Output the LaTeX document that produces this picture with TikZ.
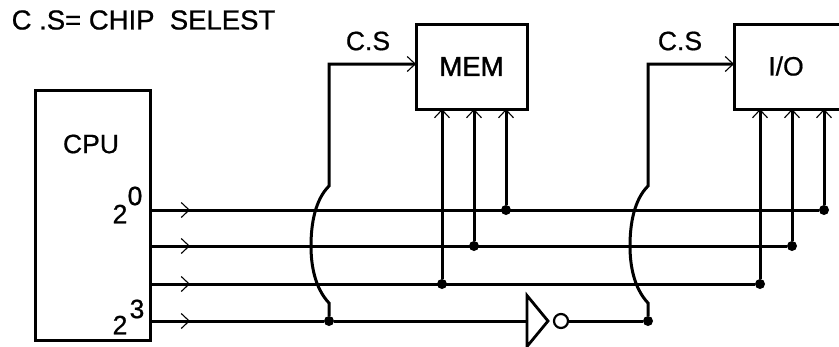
\documentclass[tikz,border=0pt]{standalone}
\usepackage{fontspec}
\setmainfont[FakeBold=0.7]{Liberation Sans}
\usetikzlibrary{arrows.meta,decorations.markings,shapes.geometric}

\begin{document}
\begin{tikzpicture}[%
  x=1pt,y=-1pt,
  >={Straight Barb[length=8pt,width=15pt,line width=1.1pt]},
  wire/.style={line width=3pt},
  midtip/.style={postaction={decorate},decoration={markings,mark=at position 40pt with {\arrow{>}}}},
  unit/.style={draw,line width=3pt,rectangle,inner sep=0pt,outer sep=0pt},
  dot/.style={circle,fill=black,inner sep=0pt,minimum size=10pt},
  caption/.style={font=\fontsize{26.5}{26.5}\selectfont,inner sep=0pt}]

\clip (0,0) rectangle (839,346);

\node [caption,font=\fontsize{27.5}{27.5}\selectfont,anchor=west] (legend) at (11.5,20) {C\ .S= CHIP\ \ SELEST};

\node [unit,minimum width=115pt,minimum height=250pt] (cpu) at (92.5,215) {};
\node [caption] (cpulabel) at (91,144) {CPU};
\node [caption] (weight0) at (120,214) {2};
\node [caption] (exp0) at (135,196) {0};
\node [caption] (weight3) at (120,325) {2};
\node [caption] (exp3) at (137,309) {3};

\node [unit,minimum width=111pt,minimum height=85pt,font=\fontsize{27.5}{27.5}\selectfont\addfontfeature{FakeBold=1.6}] (mem) at (471.5,66.5) {MEM};
\node [unit,minimum width=130pt,minimum height=85pt] (io) at (799,66.5) {};
\node [caption] (iolabel) at (786,66) {I/O};
\node [caption] (memcs) at (368,41) {C.S};
\node [caption] (iocs) at (680,41) {C.S};

\foreach \name/\x/\y in {m0/506/210,m1/474/246,m2/442/284,i0/824/210,i1/792/246,i2/760/284,cs0/329/321,cs1/648/321}
    \node [dot] (\name) at (\x,\y) {};

\node [draw,line width=2.8pt,isosceles triangle,isosceles triangle stretches,
    minimum width=51pt,minimum height=21pt,inner sep=0pt,outer sep=0pt,anchor=apex] (inv) at (548,321) {};
\node [draw,line width=2.2pt,circle,inner sep=0pt,outer sep=0pt,minimum size=14pt] (bubble) at (561,321) {};

\foreach \last in {i0,i1,i2}
    \draw [wire,midtip] (cpu.east |- \last) -- (\last);
\draw [wire,midtip] (cpu.east |- cs0) -- (cs0);
\draw [wire] (cs0) -- (inv.west);
\draw [wire] (bubble.east) -- (cs1);

\foreach \tap in {m0,m1,m2}
    \draw [wire,->] (\tap) -- (\tap |- mem.south);
\foreach \tap in {i0,i1,i2}
    \draw [wire,->] (\tap) -- (\tap |- io.south);

\foreach \from/\target in {cs0/mem,cs1/io}
    \draw [wire,->] (\from) -- ++(0,-18)
        .. controls +(-14,-15) and +(0,20) .. ++(-18,-57)
        .. controls +(0,-22) and +(-14,14) .. ++(18,-60)
        |- ([yshift=2.5pt]\target.west);
\end{tikzpicture}
\end{document}
